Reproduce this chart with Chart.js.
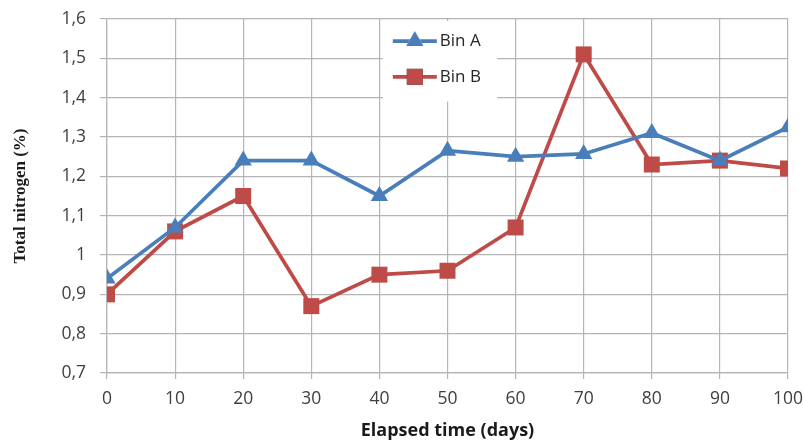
<!DOCTYPE html>
<html>
<head>
<meta charset="utf-8">
<script src="https://cdn.jsdelivr.net/npm/chart.js@4"></script>
<style>
  html, body { margin: 0; padding: 0; background: #fff; }
  #wrap { width: 804px; height: 442px; position: relative; }
</style>
</head>
<body>
<div id="wrap"><canvas id="nitrogenChart"></canvas></div>
<script>
// data
const days = [0, 10, 20, 30, 40, 50, 60, 70, 80, 90, 100];
const binA = [0.94, 1.07, 1.24, 1.24, 1.15, 1.265, 1.25, 1.257, 1.31, 1.24, 1.325];
const binB = [0.90, 1.06, 1.15, 0.87, 0.95, 0.96, 1.07, 1.51, 1.23, 1.24, 1.22];
const yTicks = [0.7, 0.8, 0.9, 1.0, 1.1, 1.2, 1.3, 1.4, 1.5, 1.6];

const blue = '#4a7ebb';
const red = '#be4b48';
const gridColor = '#b4b4b4';
const sansFamily = '"Open Sans", "Liberation Sans", sans-serif';
const tickFont = { family: sansFamily, size: 17.5 };

// legend drawn inside the plot area on a white box (covers grid lines)
const insideLegend = {
    id: 'insideLegend',
    beforeDatasetsDraw(chart) {
        const { ctx, chartArea, scales } = chart;
        const x0 = scales.x.getPixelForValue(40.5);
        const x1 = scales.x.getPixelForValue(57.3);
        const y0 = chartArea.top + 2;
        const y1 = scales.y.getPixelForValue(1.39);
        ctx.save();
        ctx.fillStyle = '#fff';
        ctx.fillRect(x0, y0, x1 - x0, y1 - y0);

        const rows = [scales.y.getPixelForValue(1.544), scales.y.getPixelForValue(1.453)];
        chart.data.datasets.forEach((ds, i) => {
            const y = rows[i];
            const lx = x0 + 10;
            ctx.strokeStyle = ds.borderColor;
            ctx.lineWidth = ds.borderWidth;
            ctx.beginPath();
            ctx.moveTo(lx, y);
            ctx.lineTo(lx + 44, y);
            ctx.stroke();
            Chart.helpers.drawPoint(ctx, {
                pointStyle: ds.pointStyle,
                radius: ds.pointRadius,
                rotation: 0,
                borderWidth: 0
            }, lx + 22, y);
            ctx.fillStyle = ds.backgroundColor;
            ctx.fill();
            ctx.fillStyle = '#262626';
            ctx.font = '17px ' + sansFamily;
            ctx.textBaseline = 'middle';
            ctx.textAlign = 'left';
            ctx.fillText(ds.label, lx + 47, y);
        });
        ctx.restore();
    }
};

const ctx = document.getElementById('nitrogenChart');
new Chart(ctx, {
    type: 'line',
    data: {
        datasets: [
            {
                label: 'Bin A',
                data: days.map((d, i) => ({ x: d, y: binA[i] })),
                borderColor: blue,
                backgroundColor: blue,
                borderWidth: 3.7,
                pointStyle: 'triangle',
                pointRadius: 10,
                pointHoverRadius: 10,
                pointBorderWidth: 0,
                tension: 0
            },
            {
                label: 'Bin B',
                data: days.map((d, i) => ({ x: d, y: binB[i] })),
                borderColor: red,
                backgroundColor: red,
                borderWidth: 3.7,
                pointStyle: 'rect',
                pointRadius: 11.3,
                pointHoverRadius: 11.3,
                pointBorderWidth: 0,
                tension: 0
            }
        ]
    },
    options: {
        responsive: true,
        maintainAspectRatio: false,
        animation: false,
        layout: { padding: { left: 0, right: 16, top: 19, bottom: 0 } },
        plugins: {
            legend: { display: false },
            tooltip: { enabled: false }
        },
        scales: {
            x: {
                type: 'linear',
                min: 0,
                max: 100,
                afterBuildTicks: (scale) => { scale.ticks = days.map(v => ({ value: v })); },
                afterFit: (scale) => {
                    scale.height = 69;
                    scale.paddingLeft = 0;
                    scale.paddingRight = 0;
                },
                grid: { color: gridColor, tickLength: 6, lineWidth: 1.2 },
                border: { color: gridColor, width: 1.2 },
                ticks: { color: '#404040', font: tickFont, padding: 10 },
                title: {
                    display: true,
                    text: 'Elapsed time (days)',
                    color: '#1a1a1a',
                    font: { family: sansFamily, size: 18, weight: 'bold' },
                    padding: { top: 0, bottom: 0 }
                }
            },
            y: {
                min: 0.7,
                max: 1.6,
                afterBuildTicks: (scale) => { scale.ticks = yTicks.map(v => ({ value: v })); },
                afterFit: (scale) => {
                    scale.width = 107;
                    scale.paddingTop = 0;
                    scale.paddingBottom = 0;
                },
                grid: { color: gridColor, tickLength: 7, lineWidth: 1.2 },
                border: { color: gridColor, width: 1.2 },
                ticks: {
                    color: '#404040',
                    font: tickFont,
                    padding: 14,
                    callback: (v) => (Math.round(v * 10) / 10).toString().replace('.', ',')
                },
                title: {
                    display: true,
                    text: 'Total nitrogen (%)',
                    color: '#1a1a1a',
                    font: { family: '"Liberation Serif", "DejaVu Serif", serif', size: 17, weight: 'bold' },
                    padding: { top: 10, bottom: 0 }
                }
            }
        }
    },
    plugins: [insideLegend]
});
</script>
</body>
</html>
